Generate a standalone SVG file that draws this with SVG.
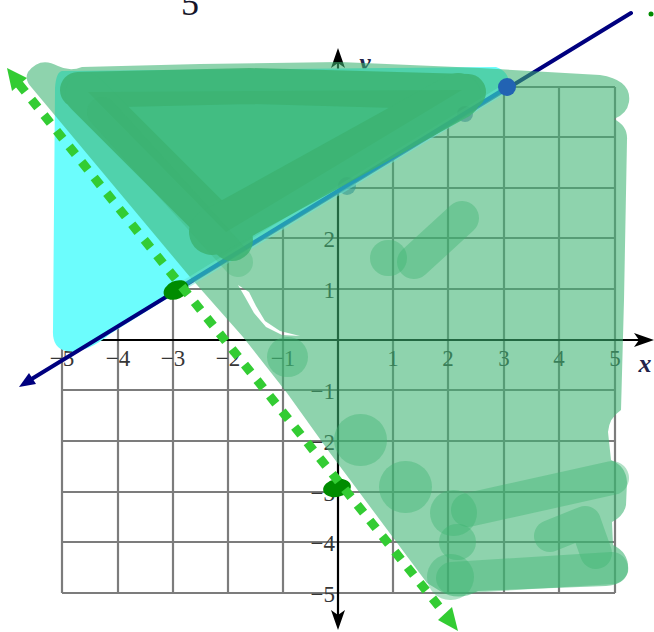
<svg xmlns="http://www.w3.org/2000/svg" width="654" height="632" viewBox="0 0 654 632">
<style>
.grid{stroke:#7c7c7c;stroke-width:2.2;fill:none}
.axis{stroke:#000;stroke-width:2.2;fill:none}
.tl{font-family:"Liberation Serif","Times New Roman",serif;font-size:23px;fill:#363636}
.tx{text-anchor:middle}
.ty{text-anchor:end}
.var{font-family:"Liberation Serif","Times New Roman",serif;font-style:italic;font-weight:bold;font-size:26px;fill:#23234a}
.dk{fill:none;stroke:#3cb371;stroke-linecap:round;stroke-linejoin:round}
.blob{fill:none;stroke:#3cb371;stroke-linecap:round;stroke-linejoin:round;opacity:0.4}
.gdot{fill:#008c00}
</style>
<rect width="654" height="632" fill="#fff"/>
<g id="grid">
<path class="grid" d="M62,87V593M118,87V593M173,87V593M228,87V593M283,87V593M393,87V593M448,87V593M504,87V593M559,87V593M615,87V593"/>
<path class="grid" d="M62,87H615M62,137H615M62,188H615M62,238H615M62,289H615M62,390H615M62,441H615M62,492H615M62,542H615M62,593H615"/>
</g>
<g id="axes">
<path class="axis" d="M338,60V618M55,340H640"/>
<path d="M338,48L345,68L338,63L331,68Z"/>
<path d="M338,630L345,610L338,615L331,610Z"/>
<path d="M654,340L634,333L639,340L634,347Z"/>
</g>
<g id="labels" class="tl">
<text class="tx" x="62" y="366">−5</text>
<text class="tx" x="118" y="366">−4</text>
<text class="tx" x="173" y="366">−3</text>
<text class="tx" x="228" y="366">−2</text>
<text class="tx" x="283" y="366">−1</text>
<text class="tx" x="393" y="366">1</text>
<text class="tx" x="448" y="366">2</text>
<text class="tx" x="504" y="366">3</text>
<text class="tx" x="559" y="366">4</text>
<text class="tx" x="615" y="366">5</text>
<text class="ty" x="335" y="96">5</text>
<text class="ty" x="335" y="146">4</text>
<text class="ty" x="335" y="197">3</text>
<text class="ty" x="335" y="247">2</text>
<text class="ty" x="335" y="298">1</text>
<text class="ty" x="335" y="399">−1</text>
<text class="ty" x="335" y="450">−2</text>
<text class="ty" x="335" y="501">−3</text>
<text class="ty" x="335" y="551">−4</text>
<text class="ty" x="335" y="602">−5</text>
</g>
<text class="var" x="365" y="71" text-anchor="middle">y</text>
<text class="var" x="645" y="372" text-anchor="middle">x</text>
<text x="190" y="15" text-anchor="middle" font-family="Liberation Serif, serif" font-size="36" fill="#15152a">5</text>
<g id="cyan-region">
<path d="M62,71L496,67Q510,72 509,86L110,334Q86,354 66,351Q52,348 53,330L55,88Q56,72 62,71Z" fill="#6cfdfd"/>
</g>
<g id="blue-line">
<path d="M30,380L631,13" stroke="#00007f" stroke-width="4" stroke-linecap="round" fill="none"/>
<path d="M19,387L36,384L29,373Z" fill="#00007f"/>
<circle cx="347" cy="186" r="9" fill="#1a6ab4" opacity="0.55"/>
<circle cx="465" cy="114" r="8" fill="#1a4a9a" opacity="0.5"/>
</g>
<g id="light-shading">
<path fill="#3cb371" fill-opacity="0.58" fill-rule="evenodd" d="M28,72Q40,56 58,66Q70,72 82,67L200,64L340,62L480,68L600,75Q632,80 629,102Q627,114 614,119Q628,126 627,140L624,300L621,410Q609,418 608,432L611,460Q626,466 627,482L626,505Q624,516 612,522L613,545Q630,553 628,572Q624,585 606,586L478,591Q458,602 440,591L427,583L330,453L287,393L243,337L190,277L32,88Q24,80 28,72ZM238,285L249,292L256,306L265,321L280,331L300,336L282,335L266,327L254,313L245,297Z"/>
</g>
<g id="blue-line-covered">
<path d="M176,290L506,88" stroke="#66e6d6" stroke-width="9" opacity="0.5" fill="none"/>
<path d="M176,290L506,88" stroke="#239cb4" stroke-width="4" fill="none"/>
</g>
<g id="dark-strokes">
<polygon points="88,92 462,90 226,232" fill="#3cb371" opacity="0.7"/>
<g opacity="0.82">
<path class="dk" d="M78,90L250,86L468,92" stroke-width="36"/>
<path class="dk" d="M86,94L232,240" stroke-width="42"/>
<path class="dk" d="M212,232L458,96" stroke-width="46"/>
</g>
<path class="dk" d="M102,112L238,262" stroke-width="30" opacity="0.3"/>
<path class="blob" d="M388,258h1" stroke-width="36"/>
<path class="blob" d="M414,262L462,218" stroke-width="34"/>
<path class="blob" d="M287,357h1" stroke-width="40" opacity="0.25"/>
<path class="blob" d="M360,440h1" stroke-width="52" opacity="0.3"/>
<path class="blob" d="M405,487h1" stroke-width="52" opacity="0.3"/>
<path class="blob" d="M453,513h1" stroke-width="46"/>
<path class="blob" d="M468,510L612,478" stroke-width="34"/>
<path class="blob" d="M457,542h1" stroke-width="36"/>
<path class="blob" d="M550,536L585,522L596,553" stroke-width="32"/>
<path class="blob" d="M452,578L612,568" stroke-width="32"/>
<path class="blob" d="M450,577h1" stroke-width="46"/>
</g>
<g id="points">
<ellipse class="gdot" cx="176" cy="290" rx="13" ry="9" transform="rotate(-25 176 290)"/>
<ellipse class="gdot" cx="337" cy="488" rx="14" ry="9" transform="rotate(-10 337 488)"/>
</g>
<g id="dotted-line">
<path d="M19,84L445,614" stroke="#33cc33" stroke-width="9" stroke-dasharray="10 10" fill="none"/>
<path d="M7,68L27,78L12,91Z" fill="#33cc33"/>
<path d="M458,631L438,620L452,607Z" fill="#33cc33"/>
</g>
<circle cx="507" cy="87" r="9" fill="#2263b3"/>
<circle cx="651" cy="14" r="2.5" fill="#008c00"/>
</svg>
